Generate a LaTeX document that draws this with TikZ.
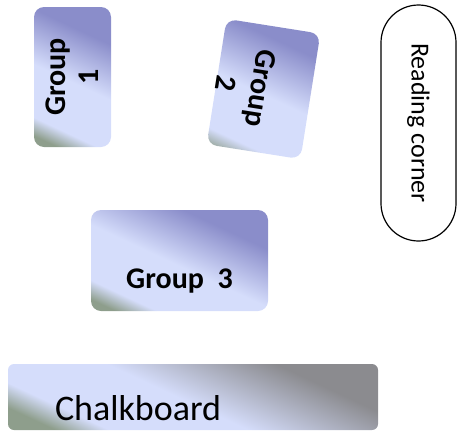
\documentclass[tikz,border=0pt]{standalone}
\usepackage{fontspec}
\setmainfont{Carlito}
\usetikzlibrary{shapes.misc}
\definecolor{glight}{HTML}{D5DDFB}
\definecolor{gdark}{HTML}{8A8DCA}
\definecolor{gcorner}{HTML}{8E9E8C}
\definecolor{bdark}{HTML}{8B8B8F}
\pgfdeclareverticalshading{groupshade}{100bp}{color(0bp)=(gcorner); color(21bp)=(gcorner); color(28bp)=(glight); color(48bp)=(glight); color(69bp)=(gdark); color(100bp)=(gdark)}
\pgfdeclareverticalshading{boardshade}{100bp}{color(0bp)=(gcorner); color(23bp)=(gcorner); color(30bp)=(glight); color(48bp)=(glight); color(70bp)=(bdark); color(100bp)=(bdark)}
\tikzstyle{groupbox}=[rounded corners=10pt,shading=groupshade,shading angle=-25,inner sep=0pt,align=center,font=\bfseries\fontsize{30}{33}\selectfont]
\tikzstyle{boardbox}=[rounded corners=6pt,shading=boardshade,shading angle=-25,inner sep=0pt,align=left,font=\fontsize{36}{40}\selectfont]
\tikzstyle{cornerbox}=[rounded rectangle,draw,line width=1.2pt,fill=white,inner sep=0pt,font=\fontsize{26}{28}\selectfont]

\begin{document}
\begin{tikzpicture}[x=1pt,y=-1pt]
    \useasboundingbox (0,0) rectangle (457,431);
    \node[groupbox,rotate=90,minimum width=140pt,minimum height=77pt] (g1) at (72.5,77) {Group\\1};
    \node[groupbox,rotate=-99,minimum width=127pt,minimum height=95pt,font=\bfseries\fontsize{30}{35}\selectfont,text height=95pt,text depth=0pt] (g2) at (263.5,89) {Group\\2};
    \node[groupbox,minimum width=177pt,minimum height=101pt,text height=55pt,text depth=0pt] (g3) at (179.5,260.5) {Group\ \ 3};
    \node[cornerbox,rotate=-90,minimum width=236pt,minimum height=75pt] (rc) at (418.5,123) {Reading corner};
    \node[boardbox,minimum width=370pt,minimum height=66pt,text width=276pt,text height=46pt,text depth=0pt] (board) at (193,397) {Chalkboard};
\end{tikzpicture}
\end{document}
